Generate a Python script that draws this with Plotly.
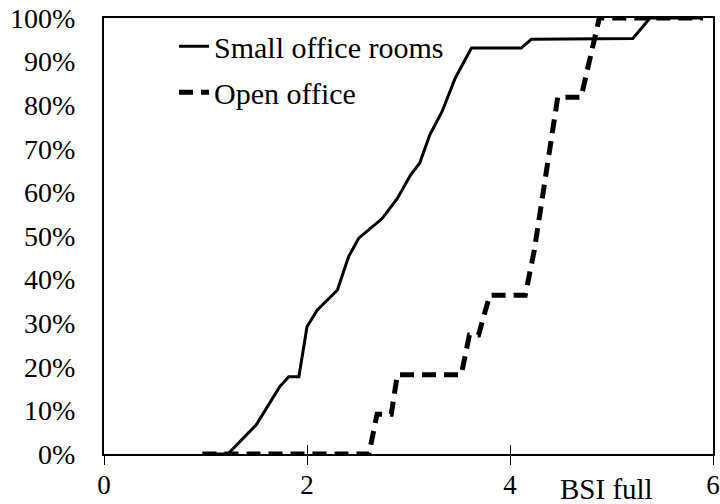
import plotly.graph_objects as go

# Small office rooms (solid) - cumulative share vs BSI full
small_x = [0.97, 1.22, 1.50, 1.73, 1.82, 1.92, 2.00, 2.10, 2.30, 2.41, 2.51, 2.74, 2.89,
           3.02, 3.11, 3.21, 3.33, 3.46, 3.62, 4.11, 4.21, 5.21, 5.38, 5.90]
small_y = [0, 0, 6.7, 15.4, 17.7, 17.7, 29.2, 33.0, 37.6, 45.3, 49.5, 54.0, 58.6,
           64.0, 66.7, 73.2, 78.5, 86.2, 93.1, 93.1, 95.1, 95.3, 100, 100]

# Open office (dashed)
open_x = [0.97, 2.61, 2.69, 2.83, 2.89, 3.52, 3.60, 3.69, 3.80, 4.15, 4.24, 4.47,
          4.70, 4.81, 4.88, 5.90]
open_y = [0, 0, 9.1, 9.1, 18.2, 18.2, 27.3, 27.3, 36.4, 36.4, 46.8, 81.8,
          81.8, 92.7, 100, 100]

x_ticks = [0, 2, 4, 6]
y_ticks = [0, 10, 20, 30, 40, 50, 60, 70, 80, 90, 100]
y_ticktext = [f"{v}%" for v in y_ticks]

FONT = "Liberation Serif, Times New Roman, serif"

fig = go.Figure()
fig.add_trace(go.Scatter(x=small_x, y=small_y, mode="lines", name="Small office rooms",
                         legendgroup="a",
                         line=dict(color="black", width=3)))
fig.add_trace(go.Scatter(x=open_x, y=open_y, mode="lines", name="Open office",
                         legendgroup="b",
                         line=dict(color="black", width=5, dash="14px,8px")))

fig.update_layout(
    width=720, height=504,
    margin=dict(l=104, r=7, t=18, b=50, autoexpand=False),
    paper_bgcolor="white", plot_bgcolor="white",
    font=dict(family=FONT, size=28, color="black"),
    showlegend=True,
    legend=dict(x=0.115, y=0.995, xanchor="left", yanchor="top",
                bgcolor="rgba(0,0,0,0)", font=dict(size=30, family=FONT),
                tracegroupgap=4, itemwidth=30),
    xaxis=dict(range=[0, 6], tickvals=x_ticks, ticktext=[str(v) for v in x_ticks],
               showgrid=False, zeroline=False, showline=True, linecolor="black",
               linewidth=2, mirror=True, ticks="outside", ticklen=9, tickwidth=1,
               tickcolor="black", ticklabelstandoff=-3, automargin=False,
               tickfont=dict(size=27)),
    xaxis2=dict(range=[0, 6], overlaying="x", matches="x", tickvals=x_ticks,
                showticklabels=False, showgrid=False, zeroline=False, showline=False,
                ticks="inside", ticklen=9, tickwidth=1, tickcolor="black", side="bottom",
                automargin=False),
    yaxis=dict(range=[0, 100], tickvals=y_ticks, ticktext=y_ticktext,
               showgrid=False, zeroline=False, showline=True, linecolor="black",
               linewidth=2, mirror=True, ticks="", ticklabelstandoff=21,
               automargin=False),
)

fig.add_annotation(x=4.95, y=0, xref="x", yref="paper", text="BSI full",
                   showarrow=False, yanchor="top", yshift=-17,
                   font=dict(family=FONT, size=29, color="black"))

# invisible helper trace so the overlaid axis draws the inward half of the tick marks
fig.add_trace(go.Scatter(x=[x_ticks[0]], y=[y_ticks[0]], xaxis="x2", mode="markers",
                         marker=dict(opacity=0), showlegend=False, hoverinfo="skip"))

fig.write_html("out.html", config={"displayModeBar": False},
               post_script="document.body.style.margin='0';document.body.style.overflow='hidden';")
